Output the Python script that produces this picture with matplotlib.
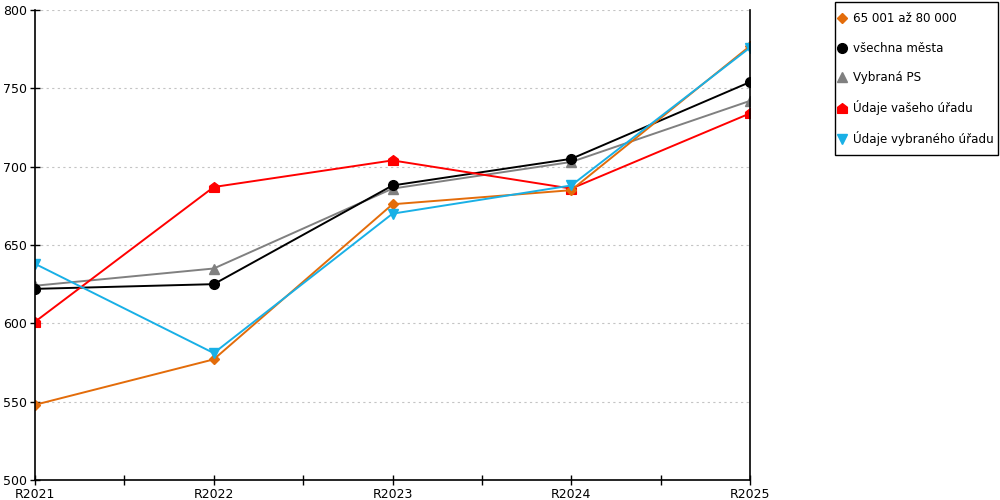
import numpy as np
import matplotlib.pyplot as plt
from matplotlib.lines import Line2D
from matplotlib.path import Path
from matplotlib.patches import Rectangle

# data
years = ['R2021', 'R2022', 'R2023', 'R2024', 'R2025']
mesta_65_80 = [548, 577, 676, 685, 777]
vsechna_mesta = [622, 625, 688, 705, 754]
vybrana_ps = [624, 635, 686, 703, 742]
vas_urad = [601, 687, 704, 686, 734]
vybrany_urad = [638, 581, 670, 688, 776]

labels = ['65 001 až 80 000', 'všechna města', 'Vybraná PS',
          'Údaje vašeho úřadu', 'Údaje vybraného úřadu']

# marker "domecek" for the red series
house = Path([(-1, -1), (1, -1), (1, 0.25), (0, 1), (-1, 0.25), (-1, -1)],
             [Path.MOVETO, Path.LINETO, Path.LINETO, Path.LINETO, Path.LINETO, Path.CLOSEPOLY])

# (values, colour, marker, size, legend position)
series = [
    (vybrana_ps, '#808080', '^', 7, 2),
    (vsechna_mesta, '#000000', 'o', 7, 1),
    (vas_urad, '#ff0000', house, 7, 3),
    (mesta_65_80, '#e36c0a', 'D', 5, 0),
    (vybrany_urad, '#19b0e6', 'v', 7, 4),
]

plt.rcParams['font.family'] = 'DejaVu Sans'
fig = plt.figure(figsize=(10, 5), dpi=100)
ax = fig.add_axes([0.035, 0.04, 0.715, 0.94])

x = np.arange(len(years))
handles = [None] * 5
for vals, col, mk, ms, idx in series:
    ax.plot(x, vals, color=col, lw=1.4, marker=mk, ms=ms, mec=col, mfc=col)
    handles[idx] = Line2D([], [], ls='none', marker=mk, color=col, ms=ms)

ax.set_xlim(0, 4)
ax.set_ylim(500, 800)
ax.set_yticks(np.arange(500, 801, 50))
ax.set_xticks(x)
ax.set_xticklabels(years)
ax.set_xticks(x[:-1] + 0.5, minor=True)
ax.grid(axis='y', ls=(0, (2, 3)), color='#c4c4c4', lw=0.8)
ax.set_axisbelow(True)

ax.spines['top'].set_visible(False)
for s in ['left', 'bottom', 'right']:
    ax.spines[s].set_linewidth(1.2)
ax.tick_params(axis='both', which='both', direction='inout', length=7, width=1,
               labelsize=9, pad=2)
ax.tick_params(axis='x', which='minor', length=7)

# legenda bez ramecku, ramecek zvlast
fig.legend(handles, labels, loc='upper left', bbox_to_anchor=(0.837, 0.975),
           fontsize=8.6, frameon=False, labelspacing=1.36, handlelength=0.8,
           handletextpad=0.5, borderpad=0, borderaxespad=0)
fig.patches.append(Rectangle((0.8345, 0.69), 0.163, 0.306, transform=fig.transFigure,
                             fill=False, edgecolor='black', lw=1))

fig.savefig('out.png', dpi=100)
